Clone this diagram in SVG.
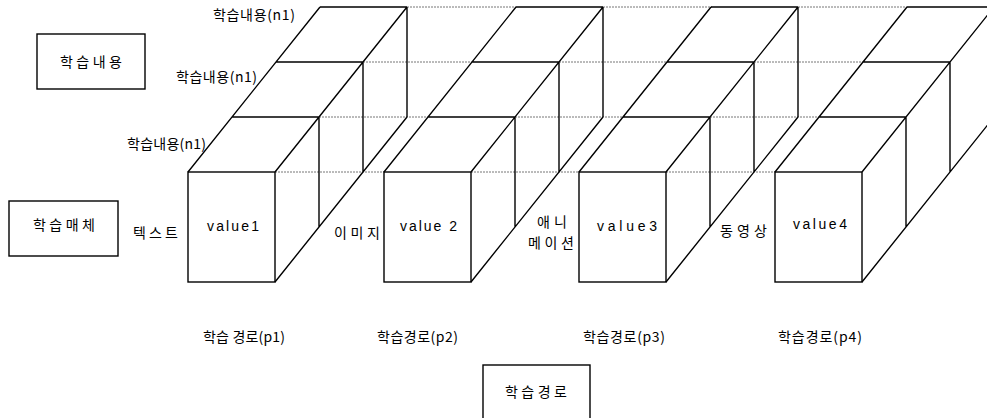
<svg xmlns="http://www.w3.org/2000/svg" width="987" height="418" viewBox="0 0 987 418">
<style>
.s{fill:none;stroke:#000;stroke-width:1.4}
.d{fill:none;stroke:#777;stroke-width:1;stroke-dasharray:2 1}
.box{fill:#fff;stroke:#000;stroke-width:1.4}
.k{font-family:"Noto Sans CJK KR","Noto Sans",sans-serif;font-size:14px;fill:#000}
.v{font-family:"Liberation Sans",Arial,sans-serif;font-size:14px;fill:#000}
</style>
<defs>
<g id="col">
<rect class="s" x="0" y="172" width="87" height="110"/>
<path class="s" d="M0 172 L132 7 M87 172 L219 7 M132 7 H219 M44 117 H131 M88 62 H175 M87 282 L219 117 M131 117 V227 M175 62 V172 M219 7 V117"/>
</g>
<g id="hid">
<path class="d" d="M87 172 H196 M131 117 H240 M175 62 H284 M219 7 H328"/>
</g>
</defs>
<rect width="987" height="418" fill="#fff"/>
<g id="hidden-lines">
<use href="#hid" x="188"/>
<use href="#hid" x="384"/>
<use href="#hid" x="579"/>
</g>
<g id="path-p1"><use href="#col" x="188"/><text class="v" x="207" y="231" textLength="52" lengthAdjust="spacing">value1</text></g>
<g id="path-p2"><use href="#col" x="384"/><text class="v" x="400" y="231" textLength="57" lengthAdjust="spacing">value 2</text></g>
<g id="path-p3"><use href="#col" x="579"/><text class="v" x="597" y="231" textLength="60" lengthAdjust="spacing">value3</text></g>
<g id="path-p4"><use href="#col" x="775"/><text class="v" x="793" y="229" textLength="54" lengthAdjust="spacing">value4</text></g>
<g id="node-content">
<rect class="box" x="37" y="34" width="108" height="55"/>
<text class="k" x="60" y="67" textLength="62" lengthAdjust="spacing">학습내용</text>
</g>
<g id="node-media">
<rect class="box" x="9" y="201" width="109" height="55"/>
<text class="k" x="33" y="230" textLength="62" lengthAdjust="spacing">학습매체</text>
</g>
<g id="node-path">
<rect class="box" x="483" y="365" width="107" height="60"/>
<text class="k" x="505" y="397" textLength="62" lengthAdjust="spacing">학습경로</text>
</g>
<g id="labels">
<text class="k" x="213" y="20" textLength="82" lengthAdjust="spacing">학습내용(n1)</text>
<text class="k" x="176" y="82" textLength="81" lengthAdjust="spacing">학습내용(n1)</text>
<text class="k" x="127" y="149" textLength="79" lengthAdjust="spacing">학습내용(n1)</text>
<text class="k" x="133" y="238" textLength="45" lengthAdjust="spacing">텍스트</text>
<text class="k" x="334" y="238" textLength="46" lengthAdjust="spacing">이미지</text>
<text class="k" x="537" y="227" textLength="30" lengthAdjust="spacing">애니</text>
<text class="k" x="528" y="248" textLength="46" lengthAdjust="spacing">메이션</text>
<text class="k" x="720" y="236" textLength="47" lengthAdjust="spacing">동영상</text>
<text class="k" x="203" y="342" textLength="82" lengthAdjust="spacing">학습 경로(p1)</text>
<text class="k" x="377" y="342" textLength="81" lengthAdjust="spacing">학습경로(p2)</text>
<text class="k" x="583" y="342" textLength="82" lengthAdjust="spacing">학습경로(p3)</text>
<text class="k" x="778" y="342" textLength="84" lengthAdjust="spacing">학습경로(p4)</text>
</g>
</svg>
